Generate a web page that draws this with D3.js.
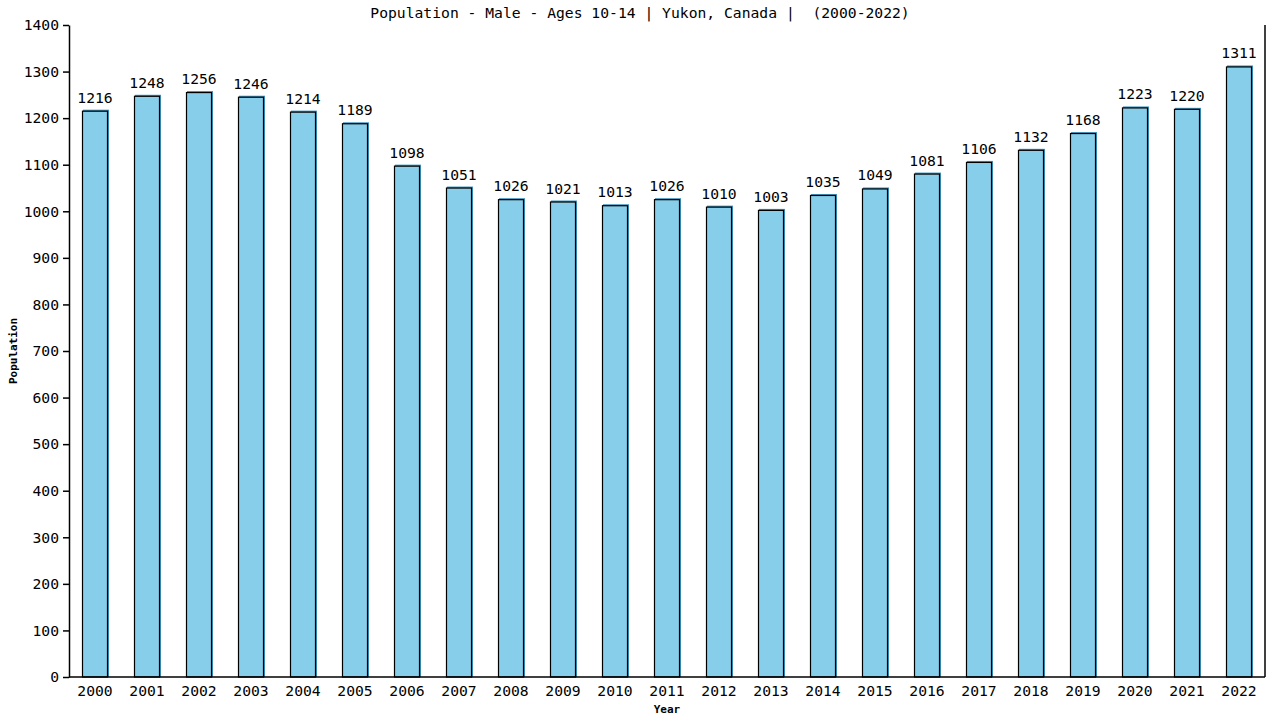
<!DOCTYPE html>
<html>
<head>
<meta charset="utf-8">
<script src="https://cdn.jsdelivr.net/npm/d3@7"></script>
<style>
  body { margin: 0; background: #fff; }
  text { font-family: "DejaVu Sans Mono", monospace; }
</style>
</head>
<body>
<div id="chart"></div>
<script>
var years = ["2000","2001","2002","2003","2004","2005","2006","2007","2008","2009","2010","2011",
             "2012","2013","2014","2015","2016","2017","2018","2019","2020","2021","2022"];
var population = [1216,1248,1256,1246,1214,1189,1098,1051,1026,1021,1013,1026,
                  1010,1003,1035,1049,1081,1106,1132,1168,1223,1220,1311];
var yTicks = [0,100,200,300,400,500,600,700,800,900,1000,1100,1200,1300,1400];

var margin = {top: 25, right: 15, bottom: 43, left: 69},
    width = 1280 - margin.left - margin.right,
    height = 720 - margin.top - margin.bottom;

var svg = d3.select("#chart")
  .append("svg")
    .attr("width", 1280)
    .attr("height", 720)
  .append("g")
    .attr("transform", "translate(" + margin.left + "," + margin.top + ")");

var x = d3.scaleBand()
  .domain(years)
  .range([0, width])
  .paddingInner(0.5)
  .paddingOuter(0.25);

var y = d3.scaleLinear()
  .domain([0, 1400])
  .range([height, 0]);

// bars: thin blue shadow then main bar
svg.append("g")
  .selectAll("rect")
  .data(population)
  .enter()
  .append("rect")
    .attr("x", function (d, i) { return x(years[i]) + 1; })
    .attr("y", function (d) { return y(d) - 1; })
    .attr("width", x.bandwidth())
    .attr("height", function (d) { return height - y(d) + 1; })
    .style("fill", "#3f94bd");

svg.append("g")
  .selectAll("rect")
  .data(population)
  .enter()
  .append("rect")
    .attr("x", function (d, i) { return x(years[i]) + 0.5; })
    .attr("y", function (d) { return y(d) + 0.5; })
    .attr("width", x.bandwidth() - 1)
    .attr("height", function (d) { return height - y(d) - 0.5; })
    .style("fill", "#87ceeb")
    .style("stroke", "#000")
    .style("stroke-width", 1.2);

// value labels
svg.append("g")
  .selectAll("text")
  .data(population)
  .enter()
  .append("text")
    .attr("x", function (d, i) { return x(years[i]) + x.bandwidth() / 2; })
    .attr("y", function (d) { return y(d) - 8; })
    .attr("text-anchor", "middle")
    .style("font-size", "14.7px")
    .text(function (d) { return d; });

// Y axis
var yAxis = svg.append("g")
  .call(d3.axisLeft(y).tickValues(yTicks).tickSize(6).tickSizeOuter(0).tickFormat(d3.format("d")));
yAxis.selectAll("text").style("font-size", "14.7px").attr("x", -10);
yAxis.select(".domain").attr("stroke", "#000").attr("stroke-width", 1.5);
yAxis.selectAll(".tick line").attr("stroke-width", 1.5);

// X axis
var xAxis = svg.append("g")
  .attr("transform", "translate(0," + height + ")")
  .call(d3.axisBottom(x).tickSize(0).tickSizeOuter(0));
xAxis.selectAll("text").style("font-size", "14.7px").attr("dy", "0.35em").attr("y", 14);
xAxis.select(".domain").attr("stroke-width", 1.5).attr("d", "M0,0H" + width);

// right border
svg.append("line")
  .attr("x1", width).attr("x2", width)
  .attr("y1", 0).attr("y2", height)
  .attr("stroke", "#000")
  .attr("stroke-width", 1.5);

// title
svg.append("text")
  .attr("text-anchor", "middle")
  .attr("x", 640 - margin.left)
  .attr("y", -7)
  .style("font-size", "14.7px")
  .style("white-space", "pre")
  .text("Population - Male - Ages 10-14 | Yukon, Canada |  (2000-2022)");

// X axis label
svg.append("text")
  .attr("text-anchor", "middle")
  .attr("x", width / 2)
  .attr("y", height + 36)
  .style("font-size", "11px")
  .style("font-weight", "bold")
  .text("Year");

// Y axis label
svg.append("text")
  .attr("text-anchor", "middle")
  .attr("transform", "rotate(-90)")
  .attr("x", -(height / 2))
  .attr("y", -52)
  .style("font-size", "11px")
  .style("font-weight", "bold")
  .text("Population");
</script>
</body>
</html>
